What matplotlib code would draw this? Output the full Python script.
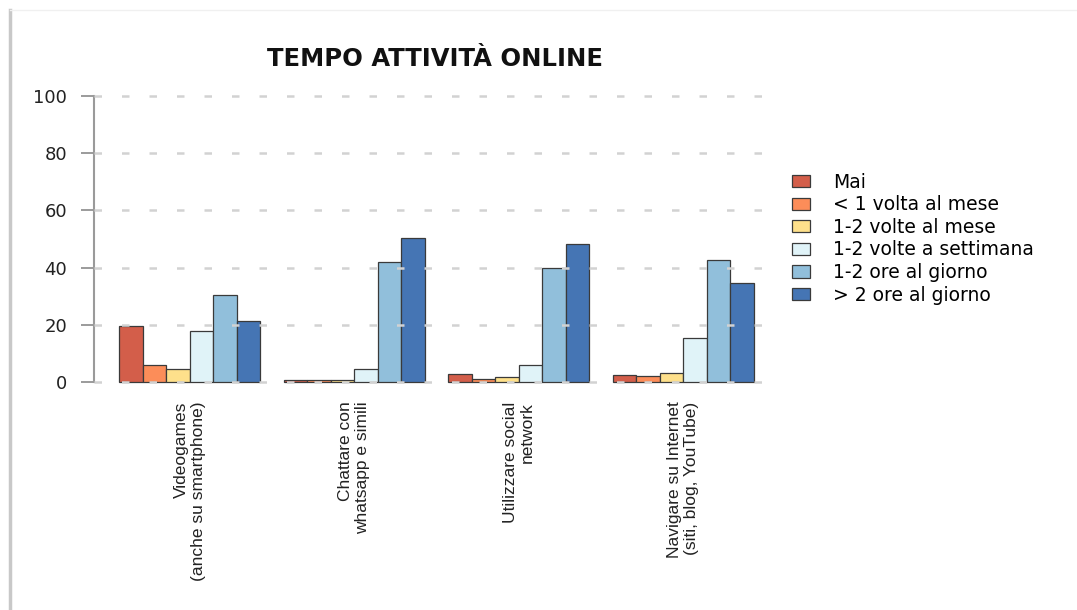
import numpy as np
import matplotlib as mpl
mpl.use('Agg')
import matplotlib.pyplot as plt
from matplotlib.patches import Patch
from matplotlib.lines import Line2D

# data (percent)
activities = ['Videogames\n(anche su smartphone)',
              'Chattare con\nwhatsapp e simili',
              'Utilizzare social\nnetwork',
              'Navigare su Internet\n(siti, blog, YouTube)']
frequencies = ['Mai', '< 1 volta al mese', '1-2 volte al mese',
               '1-2 volte a settimana', '1-2 ore al giorno', '> 2 ore al giorno']
mai = [19.5, 0.7, 2.7, 2.3]
meno_1_mese = [6.0, 0.7, 1.0, 2.0]
volte_mese = [4.6, 0.6, 1.6, 3.1]
volte_settimana = [17.8, 4.7, 6.0, 15.2]
ore_1_2 = [30.4, 41.8, 39.7, 42.8]
ore_piu_2 = [21.3, 50.2, 48.4, 34.5]
yticks = [0, 20, 40, 60, 80, 100]

series = [mai, meno_1_mese, volte_mese, volte_settimana, ore_1_2, ore_piu_2]
colors = ['#D35E4A', '#FC8D59', '#FEE08B', '#E0F3F8', '#91BFDB', '#4575B4']

plt.rcParams['font.family'] = ['Liberation Sans', 'DejaVu Sans']

fig = plt.figure(figsize=(10.77, 6.10), dpi=100)
ax = fig.add_axes([0.0873, 0.3551, 0.7233 - 0.0873, 0.8613 - 0.3551])

# R barplot style: beside bars, one bar-width gap between groups
n_groups = len(activities)
n_bars = len(series)
for i, vals in enumerate(series):
    x = 1 + np.arange(n_groups) * (n_bars + 1) + i
    ax.bar(x, vals, width=1.0, align='edge', color=colors[i],
           edgecolor='#3a3a3a', linewidth=0.9, label=frequencies[i], zorder=2)

total = n_groups * (n_bars + 1)
pad = 0.04 * (total - 1)
ax.set_xlim(1 - pad, total + pad)
ax.set_ylim(-4, 104)

# dashed grid on top of the bars
for yv in yticks:
    ax.axhline(yv, color='#d2d2d2', linewidth=1.8, dashes=(3, 8), zorder=3)

for s in ['top', 'right', 'bottom']:
    ax.spines[s].set_visible(False)
ax.spines['left'].set_bounds(0, 100)
ax.spines['left'].set_color('#9a9a9a')
ax.spines['left'].set_linewidth(1.5)

ax.set_yticks(yticks)
ax.set_yticklabels([str(v) for v in yticks], fontsize=13, color='#222222',
                   family='DejaVu Sans')
ax.tick_params(axis='y', length=9.5, width=1.2, color='#8a8a8a', pad=10)

centers = 1 + np.arange(n_groups) * (n_bars + 1) + n_bars / 2
ax.set_xticks(centers)
ax.set_xticklabels(activities, rotation=90, fontsize=12.5, color='#222222')
for lab in ax.get_xticklabels():
    lab.set_multialignment('right')
ax.tick_params(axis='x', length=0, pad=6)

fig.text(0.404, 0.904, 'TEMPO ATTIVITÀ ONLINE', ha='center', va='center',
         fontsize=17.5, fontweight='bold', color='#111111', family='DejaVu Sans')

handles = [Patch(facecolor=c, edgecolor='#3a3a3a', linewidth=0.9) for c in colors]
fig.legend(handles, frequencies, loc='upper left', bbox_to_anchor=(0.728, 0.729),
           frameon=False, prop={'family': 'DejaVu Sans', 'size': 13.5},
           handlelength=1.0, handleheight=0.62, handletextpad=1.2,
           labelspacing=0.19, borderaxespad=0)

# light frame of the screenshot
fig.add_artist(Line2D([10 / 1077, 10 / 1077], [0, 1 - 10 / 610],
                      transform=fig.transFigure, color='#c8c8c8', linewidth=2.5))
fig.add_artist(Line2D([10 / 1077, 1], [1 - 10 / 610, 1 - 10 / 610],
                      transform=fig.transFigure, color='#f0f0f0', linewidth=1))

plt.savefig('out.png', dpi=100)
